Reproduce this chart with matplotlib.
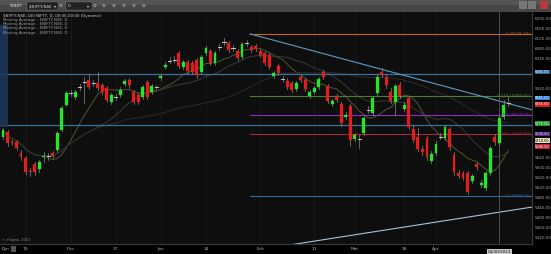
import matplotlib
matplotlib.use("Agg")
import matplotlib.pyplot as plt
from matplotlib.patches import Rectangle
import matplotlib.transforms as mtrans
import numpy as np
import pandas as pd

W, H = 551, 254

# daily candles, $NIFTY-NSE
opens = [5724, 5744, 5706, 5704, 5660, 5640, 5586, 5616, 5596, 5642, 5646, 5660, 5672, 5752, 5853, 5899,
         5885, 5923, 5943, 5953, 5939, 5941, 5933, 5921, 5865, 5883, 5893, 5937, 5953, 5905, 5893, 5885,
         5945, 5905, 5923, 5961, 6005, 6031, 6035, 6061, 6005, 6025, 6021, 6033, 5985, 6061, 6069, 6021,
         6084, 6104, 6101, 6080, 6069, 6045, 6100, 6085, 6089, 6069, 6061, 6053, 5969, 6009, 5955, 5949,
         5941, 5917, 5965, 5953, 5889, 5905, 5925, 5985, 5929, 5857, 5889, 5857, 5805, 5849, 5716, 5718,
         5740, 5831, 5821, 5901, 5985, 5965, 5905, 5865, 5933, 5837, 5881, 5756, 5724, 5676, 5720, 5628,
         5660, 5726, 5720, 5756, 5652, 5580, 5580, 5580, 5548, 5616, 5532, 5520, 5580, 5724, 5700, 5804,
         5859]
highs = [5760, 5752, 5712, 5712, 5672, 5648, 5600, 5624, 5632, 5664, 5660, 5668, 5748, 5849, 5909, 5913,
         5913, 5937, 5965, 5977, 5953, 5985, 5941, 5929, 5901, 5897, 5925, 5957, 5961, 5913, 5901, 5933,
         5953, 5937, 5933, 5977, 6025, 6045, 6049, 6069, 6033, 6033, 6029, 6041, 6053, 6089, 6077, 6069,
         6097, 6121, 6109, 6093, 6077, 6105, 6113, 6093, 6097, 6077, 6069, 6061, 5989, 6017, 5969, 5961,
         5949, 5949, 5973, 5961, 5913, 5929, 5965, 5993, 5937, 5877, 5897, 5865, 5825, 5857, 5740, 5732,
         5809, 5849, 5889, 5977, 6001, 5973, 5921, 5937, 5945, 5865, 5889, 5772, 5760, 5688, 5728, 5668,
         5708, 5740, 5772, 5764, 5664, 5592, 5588, 5588, 5576, 5624, 5552, 5588, 5688, 5736, 5809, 5873,
         5885]
lows = [5716, 5688, 5692, 5672, 5632, 5576, 5568, 5572, 5584, 5624, 5632, 5640, 5664, 5748, 5849, 5889,
        5877, 5913, 5861, 5917, 5929, 5913, 5897, 5865, 5857, 5873, 5885, 5929, 5921, 5857, 5857, 5877,
        5877, 5897, 5917, 5953, 5997, 6021, 6025, 6001, 5997, 5981, 5977, 5961, 5977, 6053, 6013, 6013,
        6073, 6093, 6065, 6069, 6033, 6037, 6089, 6065, 6069, 6045, 6013, 5997, 5961, 5973, 5945, 5917,
        5905, 5909, 5945, 5909, 5881, 5897, 5917, 5957, 5861, 5849, 5865, 5768, 5797, 5688, 5708, 5680,
        5732, 5821, 5813, 5893, 5965, 5921, 5861, 5813, 5881, 5829, 5756, 5704, 5668, 5652, 5632, 5620,
        5652, 5716, 5712, 5672, 5572, 5560, 5552, 5496, 5540, 5592, 5524, 5512, 5572, 5692, 5692, 5796,
        5849]
closes = [5752, 5700, 5702, 5680, 5644, 5584, 5582, 5584, 5624, 5646, 5643, 5648, 5740, 5841, 5901, 5902,
          5905, 5926, 5946, 5925, 5942, 5921, 5905, 5873, 5893, 5886, 5913, 5949, 5933, 5865, 5865, 5925,
          5885, 5929, 5926, 5969, 6013, 6034, 6038, 6009, 6025, 5989, 5985, 5973, 6045, 6081, 6021, 6061,
          6087, 6107, 6073, 6083, 6041, 6097, 6103, 6073, 6077, 6053, 6021, 6005, 5981, 5981, 5958, 5925,
          5913, 5941, 5953, 5917, 5905, 5921, 5957, 5965, 5869, 5869, 5873, 5780, 5813, 5712, 5732, 5721,
          5800, 5834, 5881, 5965, 5973, 5933, 5869, 5929, 5889, 5853, 5764, 5712, 5676, 5664, 5644, 5656,
          5696, 5729, 5764, 5684, 5584, 5568, 5560, 5504, 5568, 5604, 5540, 5580, 5680, 5704, 5800, 5853,
          5862]

# date axis
tick_bars = [5, 15, 25, 35, 45, 57, 69, 78, 89, 96]
tick_names = ["19", "Dec", "17", "Jan", "14", "Feb", "11", "Mar", "18", "Apr"]

price_ticks = list(range(5320, 6201, 40))

# drawings
fib_high, fib_low = 6138.2, 5488.2
fib_start = 54.8
fib_ratios = [1, 0.618, 0.5, 0.382, 0]
fib_colors = ["#c8651e", "#4d7c34", "#8a2fc0", "#a8283e", "#2d6aa2"]
hlines = [5977.0, 5772.4]
trend1 = ([54.8, 117.3], [6138.0, 5833.0])
trend2 = ([63.6, 117.3], [5291.0, 5443.0])
cursor_bar = 110
cursor_date = "04/30/2013"

axis_marks = [5985, 5881, 5855, 5778, 5736, 5710, 5686]
axis_mark_colors = ["#2f6aa2", "#2a7fd8", "#d42222", "#1f9a24", "#5a2a88", "#e6dfb2", "#c02030"]
axis_mark_text = ["white", "white", "white", "white", "#d8c8f0", "black", "white"]

ma_windows = [10, 20, 50]
ma_colors = ["#4b5a2a", "#3a3a34", "#2c2c2c"]


def fx(x):
    return x / W


def fy(y):
    return 1 - y / H


fig = plt.figure(figsize=(W / 100, H / 100), dpi=100)
fig.patch.set_facecolor("#000000")

ax = fig.add_axes([0, fy(244), fx(532), fy(12) - fy(244)])
ax.set_facecolor("#0e0e0e")
ax.set_xlim(-0.665, 117.29)
ax.set_ylim(5294.8, 6225.8)

# faint grid
for b in tick_bars:
    ax.axvline(b, color="#1d1d1d", lw=0.5, zorder=0)

# moving averages
cl = pd.Series(closes)
for w, c in zip(ma_windows, ma_colors):
    ax.plot(np.arange(len(cl)), cl.rolling(w, min_periods=1).mean(), color=c, lw=0.7, zorder=1)

# horizontal lines over full width
for v in hlines:
    ax.axhline(v, color="#3b6f9e", lw=0.9, zorder=1)

# fib retracement
for r, c in zip(fib_ratios, fib_colors):
    lv = fib_low + r * (fib_high - fib_low)
    ax.plot([fib_start, 117.3], [lv, lv], color=c, lw=0.8, zorder=1)
    ax.text(116.8, lv, f"{r:g} ({lv:.2f})", color=c, fontsize=3.0, ha="right", va="center", zorder=5)

ax.plot(*trend1, color="#5c9bcc", lw=0.8, zorder=2)
ax.plot(*trend2, color="#a9c4d6", lw=0.8, zorder=2)

# candles
for i, (o, h, l, c) in enumerate(zip(opens, highs, lows, closes)):
    ax.plot([i, i], [l, h], color="#8a8a8a", lw=0.5, zorder=3)
    if abs(c - o) < 4:
        ax.plot([i - 0.35, i + 0.35], [o, o], color="#c8c8c8", lw=0.7, zorder=4)
        continue
    col = "#27e627" if c > o else "#e01e1e"
    ax.add_patch(Rectangle((i - 0.32, min(o, c)), 0.64, abs(c - o), facecolor=col,
                           edgecolor=col, lw=0.2, zorder=4))

# cursor line
ax.axvline(cursor_bar, color="#5a5a5a", lw=0.6, zorder=2)

# axes styling - tick labels sitting under a price marker are hidden, as on screen
ax.yaxis.tick_right()
ax.set_yticks(price_ticks)
ax.set_yticklabels(["" if min(abs(v - m) for m in axis_marks) < 26 else f"{v:.2f}" for v in price_ticks],
                   fontsize=3.0, color="#a8a8a8")
ax.set_xticks(tick_bars)
ax.set_xticklabels(tick_names, fontsize=3.2, color="#a8a8a8")
ax.tick_params(length=0, pad=2)
for s in ["top", "left"]:
    ax.spines[s].set_visible(False)
ax.spines["right"].set_color("#3a3a3a")
ax.spines["bottom"].set_color("#3a3a3a")

# price markers on the axis
tr = mtrans.blended_transform_factory(ax.transAxes, ax.transData)
for v, c, tc in zip(axis_marks, axis_mark_colors, axis_mark_text):
    ax.text(1.006, v, f"{v:.2f}", transform=tr, fontsize=2.5, color=tc, va="center", ha="left",
            bbox=dict(boxstyle="square,pad=0.08", facecolor=c, edgecolor="none"), clip_on=False, zorder=6)

# cursor date box
ax.text(cursor_bar, -0.035, cursor_date, transform=mtrans.blended_transform_factory(ax.transData, ax.transAxes),
        fontsize=3.0, color="#111111", ha="center", va="center",
        bbox=dict(boxstyle="square,pad=0.2", facecolor="#c8c8c8", edgecolor="none"), clip_on=False)

# legend text
leg = ["$NIFTY-NSE, D|0 NIFTY, D, 00:00-00:00 (Dynamic)"] + ["Moving Average - $NIFTY-NSE, D"] * 4
for k, t in enumerate(leg):
    fig.text(fx(3), fy(15.5 + k * 4.3), t, fontsize=2.9, color="#d0d0d0" if k == 0 else "#a0a0a0",
             va="center", ha="left")

# left cursor strip
fig.patches.append(Rectangle((0, fy(127)), fx(8), fy(25) - fy(127), transform=fig.transFigure,
                             facecolor="#1b3858", edgecolor="none", alpha=0.9))

fig.text(fx(2), fy(240.5), "© eSignal, 2013", fontsize=2.4, color="#8a8a8a", va="center")

# toolbar
fig.patches.append(Rectangle((0, fy(12)), 1, fy(0) - fy(12), transform=fig.transFigure,
                             facecolor="#464646", edgecolor="none"))
fig.patches.append(Rectangle((0, fy(5)), 1, fy(0) - fy(5), transform=fig.transFigure,
                             facecolor="#555555", edgecolor="none"))
fig.text(fx(10), fy(6), "START", fontsize=3.0, color="#dddddd", va="center")
fig.patches.append(Rectangle((fx(27), fy(10)), fx(31), fy(2) - fy(10), transform=fig.transFigure,
                             facecolor="#222222", edgecolor="#777777", lw=0.3))
fig.text(fx(29), fy(6), "$NIFTY-NSE  ▾", fontsize=2.9, color="#dddddd", va="center")
fig.patches.append(Rectangle((fx(66), fy(10)), fx(26), fy(2) - fy(10), transform=fig.transFigure,
                             facecolor="#222222", edgecolor="#777777", lw=0.3))
fig.text(fx(68), fy(6), "D", fontsize=2.9, color="#dddddd", va="center")
fig.text(fx(87), fy(6), "▾", fontsize=2.9, color="#dddddd", va="center")
for xi in [61, 95, 104, 114, 124, 134, 144]:
    fig.text(fx(xi), fy(6), "⚙", fontsize=3.2, color="#cccccc", va="center", ha="center")
for xi, c in [(523, "#777777"), (532, "#777777"), (544, "#b83a3a")]:
    fig.patches.append(Rectangle((fx(xi - 4), fy(9)), fx(8), fy(1) - fy(9), transform=fig.transFigure,
                                 facecolor=c, edgecolor="none"))

# Dyn box bottom left
fig.text(fx(2), fy(249), "Dyn", fontsize=2.8, color="#cccccc", va="center")
fig.patches.append(Rectangle((fx(11), fy(252)), fx(5), fy(246) - fy(252), transform=fig.transFigure,
                             facecolor="#555555", edgecolor="none"))

fig.savefig("out.png", dpi=100, facecolor=fig.get_facecolor())
